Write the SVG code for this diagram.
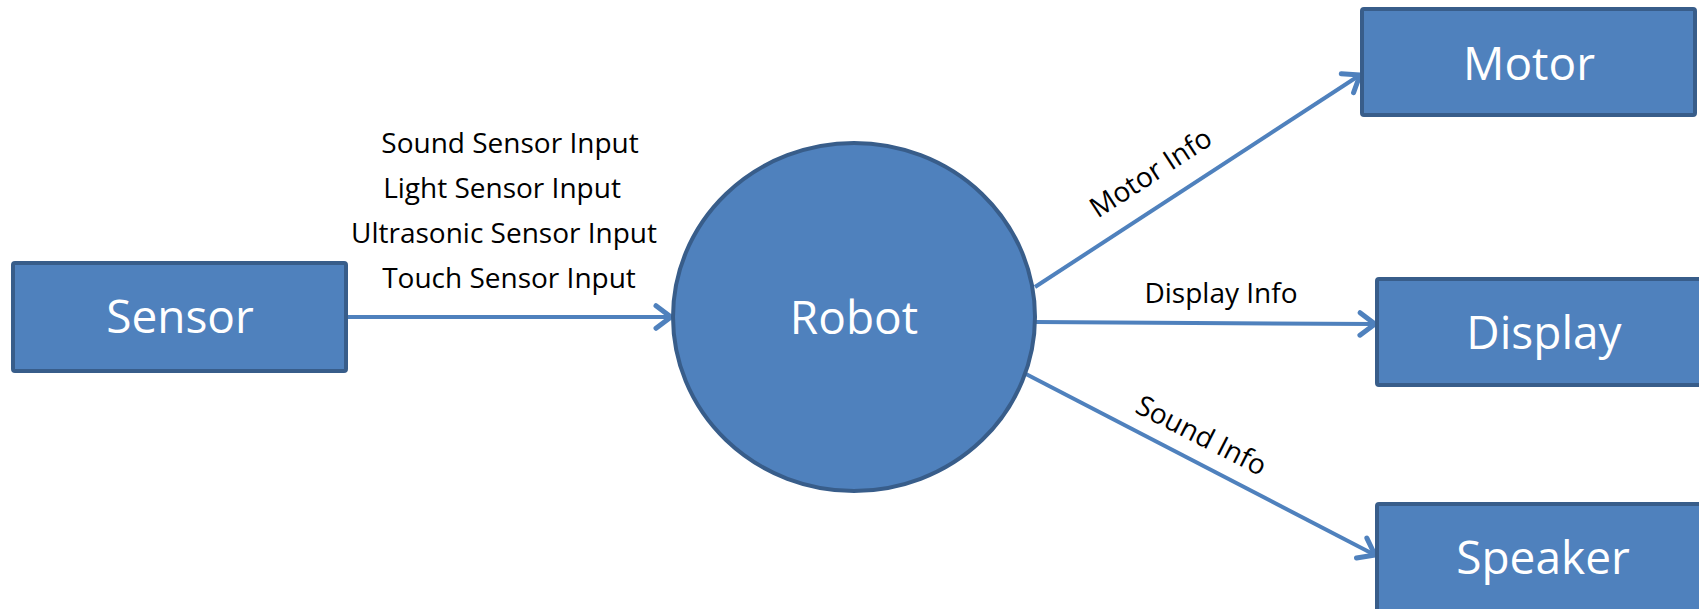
<svg xmlns="http://www.w3.org/2000/svg" width="1699" height="609" viewBox="0 0 1699 609">
<style>
.node{fill:#4F81BD;stroke:#385D8A;stroke-width:4}
.nlabel{font-family:"Open Sans","Noto Sans",sans-serif;font-size:46px;fill:#FFFFFF;text-anchor:middle;dominant-baseline:central}
.conn{stroke:#4F81BD;stroke-width:4;fill:none;marker-end:url(#arr)}
.clabel{font-family:"Open Sans","Noto Sans",sans-serif;font-size:28px;fill:#000000;text-anchor:middle}
</style>
<defs>
<marker id="arr" markerUnits="userSpaceOnUse" markerWidth="30" markerHeight="30" refX="20" refY="12" viewBox="0 0 24 24" orient="auto">
<path d="M8,3 L20,12 L8,21" fill="none" stroke="#4F81BD" stroke-width="4" stroke-linecap="round" stroke-linejoin="round"/>
</marker>
</defs>
<g id="connectors">
<line class="conn" x1="346" y1="317" x2="671" y2="317"/>
<line class="conn" x1="1035" y1="287" x2="1360" y2="75"/>
<line class="conn" x1="1035" y1="322" x2="1375" y2="324"/>
<line class="conn" x1="1024" y1="373" x2="1375" y2="555"/>
<text class="clabel" x="510" y="153">Sound Sensor Input</text>
<text class="clabel" x="502" y="198">Light Sensor Input</text>
<text class="clabel" x="504" y="243">Ultrasonic Sensor Input</text>
<text class="clabel" x="509" y="288">Touch Sensor Input</text>
<text class="clabel" transform="translate(1156,181) rotate(-33)">Motor Info</text>
<text class="clabel" x="1221" y="303">Display Info</text>
<text class="clabel" transform="translate(1197,444) rotate(27)">Sound Info</text>
</g>
<g id="sensor">
<rect class="node" x="13" y="263" width="333" height="108" rx="2"/>
<text class="nlabel" x="180" y="315">Sensor</text>
</g>
<g id="robot">
<ellipse class="node" cx="854" cy="317" rx="181" ry="174"/>
<text class="nlabel" x="854" y="316">Robot</text>
</g>
<g id="motor">
<rect class="node" x="1362" y="9" width="333" height="106" rx="2"/>
<text class="nlabel" x="1529" y="62">Motor</text>
</g>
<g id="display">
<rect class="node" x="1377" y="279" width="330" height="106" rx="2"/>
<text class="nlabel" x="1544" y="331">Display</text>
</g>
<g id="speaker">
<rect class="node" x="1377" y="504" width="330" height="110" rx="2"/>
<text class="nlabel" x="1543" y="556">Speaker</text>
</g>
</svg>
